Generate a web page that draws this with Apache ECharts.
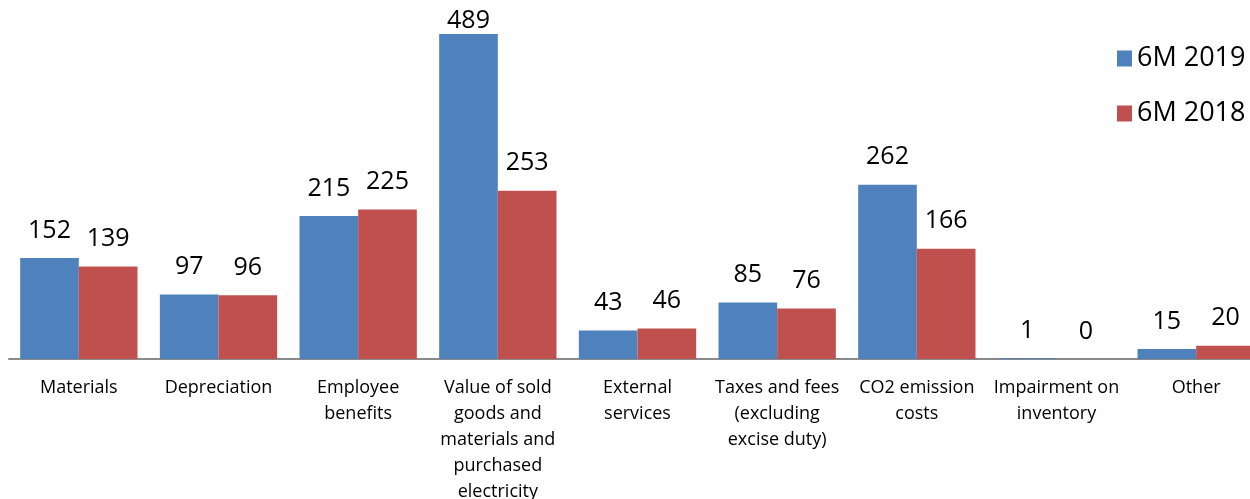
<!DOCTYPE html>
<html>
<head>
<meta charset="utf-8">
<script src="https://cdn.jsdelivr.net/npm/echarts@6/dist/echarts.min.js"></script>
<style>
  html, body { margin: 0; padding: 0; background: #fff; }
  #chart { width: 1250px; height: 499px; }
</style>
</head>
<body>
<div id="chart"></div>
<script>
// categories (line breaks as in the source chart)
var categories = [
  "Materials",
  "Depreciation",
  "Employee\nbenefits",
  "Value of sold\ngoods and\nmaterials and\npurchased\nelectricity",
  "External\nservices",
  "Taxes and fees\n(excluding\nexcise duty)",
  "CO2 emission\ncosts",
  "Impairment on\ninventory",
  "Other"
];
var seriesNames = ["6M 2019", "6M 2018"];
var values2019 = [152, 97, 215, 489, 43, 85, 262, 1, 15];
var values2018 = [139, 96, 225, 253, 46, 76, 166, 0, 20];

var chart = echarts.init(document.getElementById("chart"));

function withLabels(arr) {
  // the tallest bar's label sits right on top of it
  var top = Math.max.apply(null, arr);
  return arr.map(function (v) {
    if (v === top && v > 400) {
      return { value: v, label: { distance: 1 } };
    }
    return v;
  });
}

var labelStyle = {
  show: true,
  position: "top",
  distance: 15,
  color: "#000",
  fontSize: 25,
  fontFamily: "Open Sans"
};

chart.setOption({
  animation: false,
  color: ["#4F81BD", "#C0504D"],
  grid: {
    left: 9,
    right: -16,
    top: 0,
    bottom: 140,
    outerBoundsMode: "none",
    containLabel: false
  },
  legend: {
    orient: "vertical",
    left: 1112,
    top: 40,
    itemWidth: 15,
    itemHeight: 16,
    itemGap: 28,
    icon: "rect",
    textStyle: {
      fontSize: 27,
      color: "#000",
      fontFamily: "Open Sans"
    },
    data: seriesNames
  },
  xAxis: {
    type: "category",
    data: categories,
    axisTick: { show: false },
    axisLine: { lineStyle: { color: "#8a8a8a", width: 2 } },
    axisLabel: {
      interval: 0,
      margin: 16,
      color: "#000",
      fontSize: 18,
      lineHeight: 26,
      fontFamily: "Open Sans"
    }
  },
  yAxis: {
    type: "value",
    min: 0,
    max: 540,
    show: false,
    splitLine: { show: false }
  },
  series: [
    {
      name: seriesNames[0],
      type: "bar",
      data: withLabels(values2019),
      barGap: "0%",
      barCategoryGap: "16%",
      label: labelStyle
    },
    {
      name: seriesNames[1],
      type: "bar",
      data: withLabels(values2018),
      barGap: "0%",
      barCategoryGap: "16%",
      label: labelStyle
    }
  ]
});
</script>
</body>
</html>
